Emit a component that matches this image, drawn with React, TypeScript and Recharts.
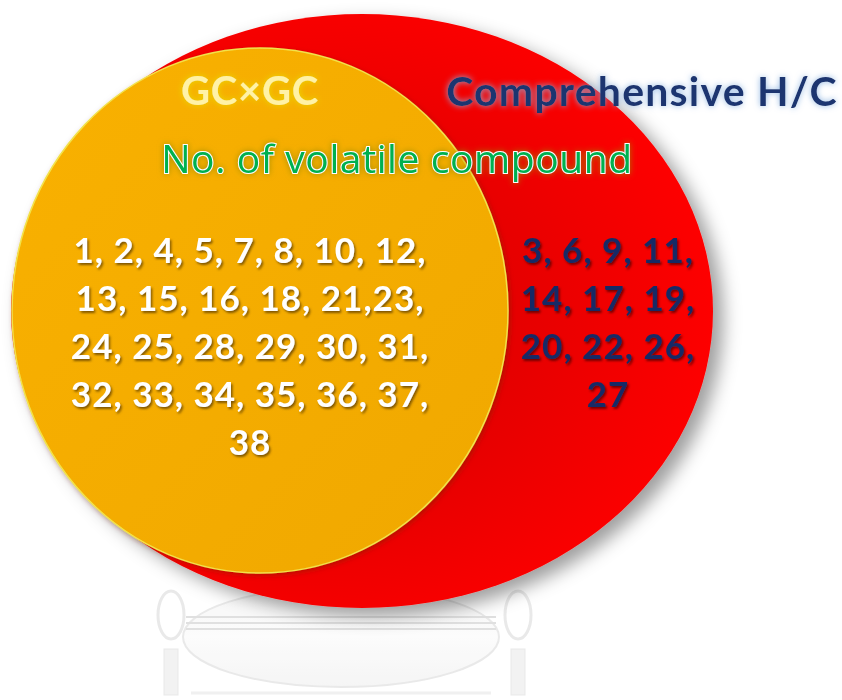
import React from 'react';
import { ScatterChart, Scatter, XAxis, YAxis } from 'recharts';

// ---- data ----
const setNames = ['GC×GC', 'Comprehensive H/C'];
const subtitle = 'No. of volatile compound';
const gcxgcRows = [
  '1, 2, 4, 5, 7, 8, 10, 12,',
  '13, 15, 16, 18, 21,23,',
  '24, 25, 28, 29, 30, 31,',
  '32, 33, 34, 35, 36, 37,',
  '38',
];
const hcOnlyRows = ['3, 6, 9, 11,', '14, 17, 19,', '20, 22, 26,', '27'];

// ---- layout (chart coordinate space 0..842 x 0..700) ----
const W = 842;
const H = 700;
const ellipses = [
  { x: 362, y: 311, rx: 351, ry: 297, kind: 'red' },
  { x: 260, y: 310.5, rx: 248, ry: 262.5, kind: 'orange' },
];
const titleLabels = [
  { x: 250, y: 105, text: setNames[0], kind: 'gc' },
  { x: 642, y: 106, text: setNames[1], kind: 'hc' },
  { x: 397, y: 173, text: subtitle, kind: 'sub' },
];
const listLabels = [
  ...gcxgcRows.map((t, i) => ({ x: 250, y: 263 + i * 48, text: t, kind: 'white' })),
  ...hcOnlyRows.map((t, i) => ({ x: 608, y: 263 + i * 48, text: t, kind: 'navy' })),
];
const watermark = [{ x: 341, y: 637 }];

const FONT = 'Lato, "Open Sans", sans-serif';

const Defs = () => (
  <defs>
    <radialGradient id="redGrad" cx="0.42" cy="0.52" r="0.6">
      <stop offset="0" stopColor="#cf0000" />
      <stop offset="0.55" stopColor="#e80000" />
      <stop offset="1" stopColor="#ff0000" />
    </radialGradient>
    <linearGradient id="orangeGrad" x1="0" y1="0" x2="1" y2="1">
      <stop offset="0" stopColor="#f9b100" />
      <stop offset="1" stopColor="#f0a800" />
    </linearGradient>
    <linearGradient id="wmGrad" x1="0" y1="0" x2="0" y2="1">
      <stop offset="0" stopColor="#f4f4f4" />
      <stop offset="0.5" stopColor="#fbfbfb" />
      <stop offset="1" stopColor="#f2f2f2" />
    </linearGradient>
    <filter id="redShadow" x="-20%" y="-20%" width="140%" height="140%">
      <feDropShadow dx="10" dy="8" stdDeviation="9" floodColor="#000" floodOpacity="0.38" />
    </filter>
    <filter id="orangeShadow" x="-20%" y="-20%" width="140%" height="140%">
      <feDropShadow dx="2" dy="2" stdDeviation="2.5" floodColor="#7a2000" floodOpacity="0.45" />
    </filter>
    <filter id="txtShadow" x="-10%" y="-30%" width="120%" height="160%">
      <feDropShadow dx="1.5" dy="2" stdDeviation="1.2" floodColor="#5a3a00" floodOpacity="0.75" />
    </filter>
    <filter id="navyShadow" x="-10%" y="-30%" width="120%" height="160%">
      <feDropShadow dx="1.5" dy="2" stdDeviation="1.2" floodColor="#400000" floodOpacity="0.7" />
    </filter>
    <filter id="glowYellow" x="-20%" y="-40%" width="140%" height="180%">
      <feGaussianBlur in="SourceAlpha" stdDeviation="3" result="b" />
      <feFlood floodColor="#e8e000" floodOpacity="0.9" />
      <feComposite in2="b" operator="in" result="g" />
      <feMerge>
        <feMergeNode in="g" />
        <feMergeNode in="SourceGraphic" />
      </feMerge>
    </filter>
    <filter id="glowBlue" x="-20%" y="-40%" width="140%" height="180%">
      <feGaussianBlur in="SourceAlpha" stdDeviation="3" result="b" />
      <feFlood floodColor="#8db4e2" floodOpacity="0.95" />
      <feComposite in2="b" operator="in" result="g" />
      <feMerge>
        <feMergeNode in="g" />
        <feMergeNode in="SourceGraphic" />
      </feMerge>
    </filter>
    <filter id="glowSub" x="-20%" y="-40%" width="140%" height="180%">
      <feGaussianBlur in="SourceAlpha" stdDeviation="3" result="b" />
      <feFlood floodColor="#9a8a00" floodOpacity="0.85" />
      <feComposite in2="b" operator="in" result="g" />
      <feMerge>
        <feMergeNode in="g" />
        <feMergeNode in="SourceGraphic" />
      </feMerge>
    </filter>
  </defs>
);

const EllipseShape = (props: any) => {
  const { cx, cy, payload } = props;
  if (payload.kind === 'red') {
    return (
      <g>
        <ellipse cx={cx} cy={cy} rx={payload.rx} ry={payload.ry} fill="url(#redGrad)" filter="url(#redShadow)" />
      </g>
    );
  }
  return (
    <g>
      <ellipse
        cx={cx}
        cy={cy}
        rx={payload.rx}
        ry={payload.ry}
        fill="url(#orangeGrad)"
        stroke="#f2e24a"
        strokeWidth={1.5}
        filter="url(#orangeShadow)"
      />
    </g>
  );
};

const WatermarkShape = (props: any) => {
  const { cx, cy } = props;
  const c = '#e2e2e2';
  return (
    <g opacity={0.75}>
      <Defs />
      <ellipse cx={cx} cy={cy} rx={158} ry={50} fill="url(#wmGrad)" stroke={c} strokeWidth={2} />
      {[-20, -14, -8].map((d) => (
        <line key={d} x1={cx - 155} x2={cx + 155} y1={cy + d} y2={cy + d} stroke="#d6d6d6" strokeWidth={2} />
      ))}
      <ellipse cx={cx - 170} cy={cy - 22} rx={13} ry={24} fill="none" stroke={c} strokeWidth={3} />
      <ellipse cx={cx + 177} cy={cy - 22} rx={13} ry={24} fill="none" stroke={c} strokeWidth={3} />
      <rect x={cx - 177} y={cy + 12} width={14} height={46} fill="#eeeeee" stroke={c} />
      <rect x={cx + 170} y={cy + 12} width={14} height={46} fill="#eeeeee" stroke={c} />
      <line x1={cx - 150} x2={cx + 150} y1={cy + 56} y2={cy + 56} stroke="#ebebeb" strokeWidth={3} />
    </g>
  );
};

const TitleShape = (props: any) => {
  const { cx, cy, payload } = props;
  if (payload.kind === 'gc') {
    return (
      <text x={cx} y={cy} textAnchor="middle" fontFamily={FONT} fontWeight={700} fontSize={40} letterSpacing={0.8} fill="#fff2a6" filter="url(#glowYellow)">
        {payload.text}
      </text>
    );
  }
  if (payload.kind === 'hc') {
    return (
      <text x={cx} y={cy} textAnchor="middle" fontFamily={FONT} fontWeight={700} fontSize={41} letterSpacing={1.2} fill="#1f3470" filter="url(#glowBlue)">
        {payload.text}
      </text>
    );
  }
  return (
    <text
      x={cx}
      y={cy}
      textAnchor="middle"
      fontFamily='"Open Sans", Lato, sans-serif'
      fontWeight={500}
      fontSize={39}
      letterSpacing={0.6}
      fill="#00b050"
      stroke="#ffffff"
      strokeWidth={2}
      paintOrder="stroke"
      filter="url(#glowSub)"
    >
      {payload.text}
    </text>
  );
};

const ListShape = (props: any) => {
  const { cx, cy, payload } = props;
  const white = payload.kind === 'white';
  return (
    <text
      x={cx}
      y={cy}
      textAnchor="middle"
      fontFamily={FONT}
      fontWeight={700}
      fontSize={35}
      letterSpacing={1}
      fill={white ? '#ffffff' : '#162c66'}
      filter={white ? 'url(#txtShadow)' : 'url(#navyShadow)'}
    >
      {payload.text}
    </text>
  );
};

export default function App() {
  return (
    <div style={{ position: 'absolute', left: 0, top: 0, width: W, height: H, background: '#fff' }}>
      <ScatterChart width={W} height={H} margin={{ top: 0, right: 0, bottom: 0, left: 0 }}>
        <XAxis type="number" dataKey="x" domain={[0, W]} hide />
        <YAxis type="number" dataKey="y" domain={[0, H]} reversed hide />
        <Scatter data={watermark} shape={WatermarkShape} isAnimationActive={false} />
        <Scatter data={ellipses} shape={EllipseShape} isAnimationActive={false} />
        <Scatter data={titleLabels} shape={TitleShape} isAnimationActive={false} />
        <Scatter data={listLabels} shape={ListShape} isAnimationActive={false} />
      </ScatterChart>
    </div>
  );
}
